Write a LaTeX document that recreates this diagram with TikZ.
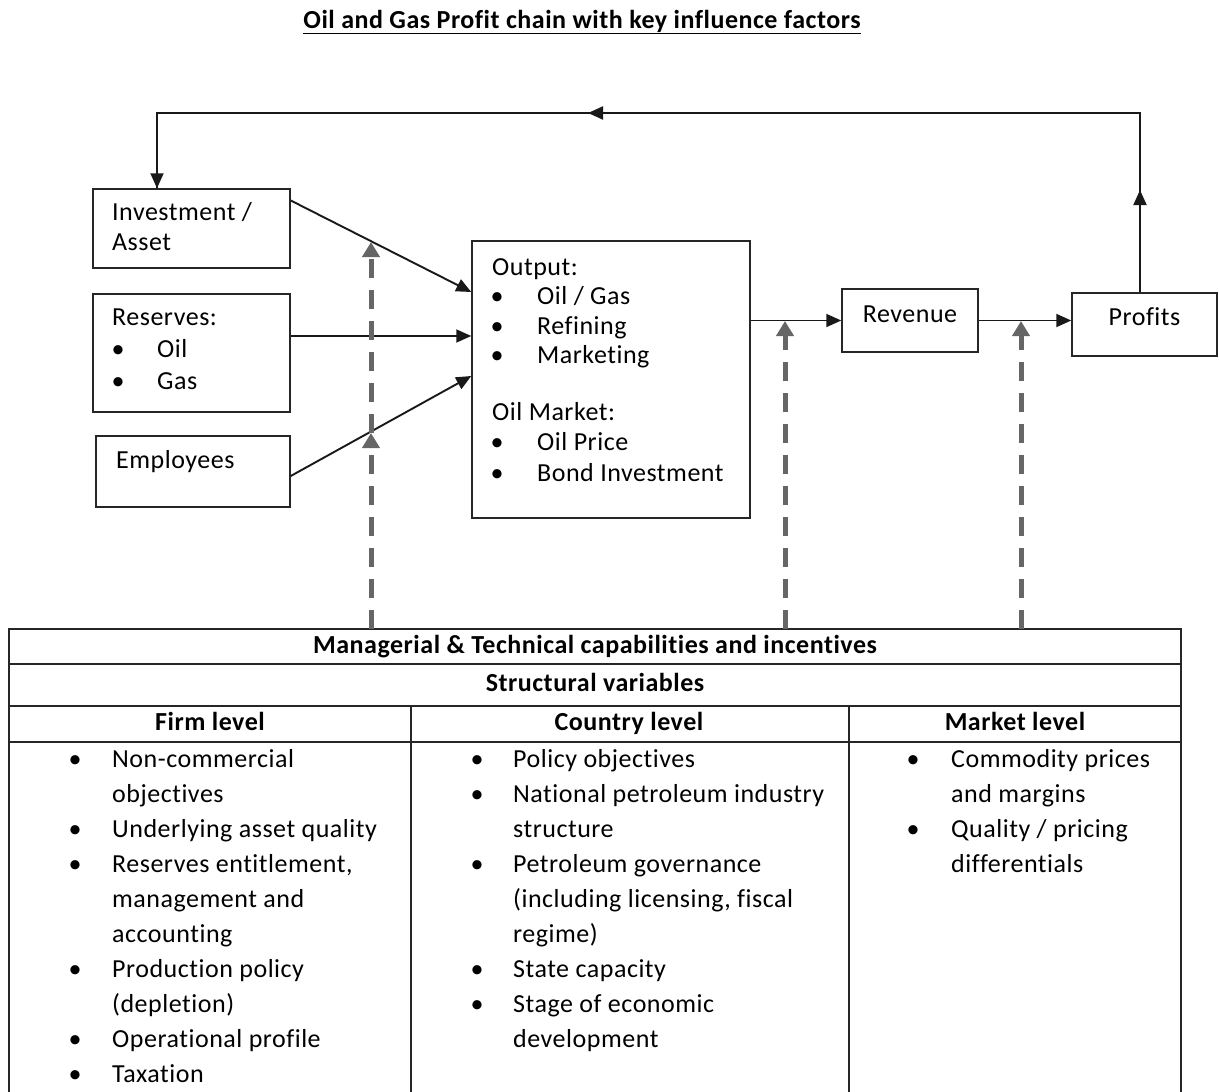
\documentclass[tikz,border=0pt]{standalone}
\usepackage{fontspec}
\setmainfont{Carlito}[Ligatures=NoCommon, LetterSpace=2]
\usetikzlibrary{arrows.meta,calc}
\newcommand\fs{\fontsize{26}{30}\selectfont}
\tikzset{
 box/.style={draw=black!85, line width=1.5pt, inner sep=0, rectangle},
 txt/.style={anchor=base west, inner sep=0, font=\fs},
 hdr/.style={anchor=base, inner sep=0, font=\fs\bfseries},
 bul/.style={anchor=base, inner sep=0, font=\fs},
 conn/.style={draw=black!90, line width=1.9pt},
 arr/.style={conn, -{Triangle[length=15pt,width=13pt]}},
 darr/.style={draw=black!60, line width=5pt, dash pattern=on 19pt off 12pt, -{Triangle[length=15pt,width=17pt]}},
 grid/.style={line width=1.5pt, draw=black!85}
}
\begin{document}
\begin{tikzpicture}[x=1pt,y=-1pt]
\useasboundingbox[fill=white] (0,0) rectangle (1219,1092);

% title
\node[anchor=base, inner sep=0, font=\fs\bfseries] (title) at (582,28) {\underline{Oil and Gas Profit chain with key influence factors}};

% boxes
\node[box, minimum width=197, minimum height=79] (inv) at (191.5,228.5) {};
\node[box, minimum width=197, minimum height=118] (res) at (191.5,353) {};
\node[box, minimum width=194, minimum height=71] (emp) at (193,471.5) {};
\node[box, minimum width=278, minimum height=277] (out) at (611,379.5) {};
\node[box, minimum width=136, minimum height=63] (rev) at (910,320.5) {};
\node[box, minimum width=145, minimum height=63] (prof) at (1144.5,324.5) {};

% box texts
\node[txt] (invt1) at (112,220) {Investment /};
\node[txt] (invt2) at (112,250) {Asset};
\node[txt] (rest) at (112,325) {Reserves:};
\node[bul] (resb1) at (118,357) {\textbullet};
\node[txt] (rest1) at (157,357) {Oil};
\node[bul] (resb2) at (118,389) {\textbullet};
\node[txt] (rest2) at (157,389) {Gas};
\node[txt] (empt) at (116,468) {Employees};

\node[txt] (outt) at (492,275) {Output:};
\node[bul] (outb1) at (497,304) {\textbullet};
\node[txt] (outt1) at (537,304) {Oil / Gas};
\node[bul] (outb2) at (497,334) {\textbullet};
\node[txt] (outt2) at (537,334) {Refining};
\node[bul] (outb3) at (497,363) {\textbullet};
\node[txt] (outt3) at (537,363) {Marketing};
\node[txt] (mkt) at (492,420) {Oil Market:};
\node[bul] (mktb1) at (497,450) {\textbullet};
\node[txt] (mktt1) at (537,450) {Oil Price};
\node[bul] (mktb2) at (497,481) {\textbullet};
\node[txt] (mktt2) at (537,481) {Bond Investment};

\node[anchor=base, inner sep=0, font=\fs] (revt) at (910,322) {Revenue};
\node[anchor=base, inner sep=0, font=\fs] (proft) at (1144.5,325) {Profits};

% connectors
\draw[arr] ([yshift=28pt]inv.east) -- ([yshift=87.5pt]out.west);
\draw[arr] ([yshift=17pt]res.east) -- ([yshift=43.5pt]out.west);
\draw[arr] ([yshift=-4.5pt]emp.east) -- ([yshift=3.5pt]out.west);
\draw[arr] (out.east |- rev.west) -- (rev.west);
\draw[arr] (rev.east) -- (prof.west |- rev.east);

% feedback loop
\coordinate (tr) at (1140,113);
\coordinate (tl) at (157,113);
\coordinate (upm) at (1140,190);
\coordinate (lm) at (588,113);
\draw[conn] (tr |- prof.north) -- (tr) -- (tl) -- (tl |- inv.north);
\draw[arr] (tr |- prof.north) -- (upm);
\draw[arr] (tr) -- (lm);
\draw[arr] (tl) -- (tl |- inv.north);

% table
\coordinate (tA) at (371,629);
\coordinate (tB) at (785,629);
\coordinate (tC) at (1021,629);
\coordinate (hA1) at (371,433);
\coordinate (hA2) at (371,242);
\coordinate (hB) at (785,321);
\coordinate (hC) at (1021,321);

\draw[grid] (9,1092) -- (9,629) -- (1181,629) -- (1181,1092);
\draw[grid] (9,664) -- (1181,664);
\draw[grid] (9,706) -- (1181,706);
\draw[grid] (9,742) -- (1181,742);
\draw[grid] (411,706) -- (411,1092);
\draw[grid] (849,706) -- (849,1092);

% dashed influence arrows
\draw[darr] (tA) -- (hA1);
\draw[darr] (hA1) -- (hA2);
\draw[darr] (tB) -- (hB);
\draw[darr] (tC) -- (hC);

% table headers
\node[hdr] (h1) at (595,653) {Managerial \& Technical capabilities and incentives};
\node[hdr] (h2) at (595,691) {Structural variables};
\node[hdr] (h3) at (210,730) {Firm level};
\node[hdr] (h4) at (629,730) {Country level};
\node[hdr] (h5) at (1015,730) {Market level};

% firm column
\foreach \t [count=\i] in {Non-commercial, objectives, Underlying asset quality, {Reserves entitlement,}, management and, accounting, Production policy, (depletion), Operational profile, Taxation}
  \node[txt] (f\i) at (112,{767+35*(\i-1)}) {\t};
\foreach \i in {1,3,4,7,9,10}
  \node[bul] (fb\i) at (75,{767+35*(\i-1)}) {\textbullet};

% country column
\foreach \t [count=\i] in {Policy objectives, National petroleum industry, structure, Petroleum governance, {(including licensing, fiscal}, regime), State capacity, Stage of economic, development}
  \node[txt] (c\i) at (513,{767+35*(\i-1)}) {\t};
\foreach \i in {1,2,4,7,8}
  \node[bul] (cb\i) at (477,{767+35*(\i-1)}) {\textbullet};

% market column
\foreach \t [count=\i] in {Commodity prices, and margins, Quality / pricing, differentials}
  \node[txt] (m\i) at (951,{767+35*(\i-1)}) {\t};
\foreach \i in {1,3}
  \node[bul] (mb\i) at (913,{767+35*(\i-1)}) {\textbullet};
\end{tikzpicture}
\end{document}
